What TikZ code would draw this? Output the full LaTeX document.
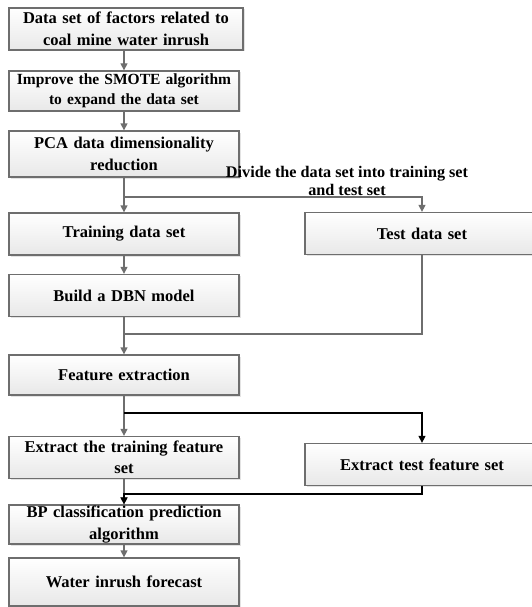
\documentclass[tikz,border=0pt]{standalone}
\usepackage{fontspec}
\setmainfont{Liberation Serif}
\usetikzlibrary{arrows.meta,shadows}
\definecolor{boxgray}{RGB}{110,110,110}
\begin{document}
\begin{tikzpicture}[x=1pt, y=-1pt, line width=1.3pt,
main node/.style={rectangle, draw=boxgray, top color=white, bottom color=black!9, minimum width=230pt, minimum height=42pt, text width=226pt, align=center, inner sep=1pt, font=\bfseries\fontsize{16.5}{21.5}\selectfont, drop shadow={shadow xshift=1.5pt, shadow yshift=-1.5pt, fill=black!22}},
flow/.style={draw=boxgray, -{Triangle[length=7pt,width=7pt]}},
black flow/.style={draw=black, -{Triangle[length=7pt,width=7pt]}}]
\useasboundingbox (0,0) rectangle (532,607);
\begin{scope}
\node[main node, minimum width=234pt] (data) at (126,29) {Data set of factors related to\\coal mine water inrush};
\node[main node, minimum height=40pt, font=\bfseries\fontsize{15.5}{20}\selectfont] (smote) at (124,91) {Improve the SMOTE algorithm\\to expand the data set};
\node[main node, minimum height=46pt] (pca) at (124,154) {PCA data dimensionality\\reduction};
\node[main node] (train) at (124,234) {Training data set};
\node[main node, minimum width=234pt] (test) at (422,233.5) {Test data set};
\node[main node] (dbn) at (124,295.5) {Build a DBN model};
\node[main node, minimum height=40pt] (feat) at (124,375) {Feature extraction};
\node[main node] (trainfeat) at (124,457.5) {Extract the training feature\\set};
\node[main node, minimum width=234pt] (testfeat) at (422,464.5) {Extract test feature set};
\node[main node, minimum height=39pt] (bp) at (124,524.5) {BP classification prediction\\algorithm};
\node[main node, minimum height=48pt] (water) at (124,582) {Water inrush forecast};
\node[align=center, inner sep=0pt, font=\bfseries\fontsize{16.2}{18}\selectfont] (divide) at (347,181) {Divide the data set into training set\\and test set};
\coordinate (split1) at (124,197);
\coordinate (join1) at (124,334);
\coordinate (split2) at (124,413);
\coordinate (join2) at (124,494);
\end{scope}
\begin{scope}
\draw[flow] (data.south -| smote) -- (smote);
\draw[flow] (smote) -- (pca);
\draw[flow] (pca) -- (train);
\draw[flow] (split1) -| (test);
\draw[flow] (train) -- (dbn);
\draw[draw=boxgray] (test.south) |- (join1);
\draw[flow] (dbn) -- (feat);
\draw[flow] (feat) -- (trainfeat);
\draw[black flow] (split2) -| (testfeat);
\draw[flow] (trainfeat) -- (bp);
\draw[black flow] (testfeat.south) |- (join2) -- (bp.north);
\draw[flow] (bp) -- (water);
\end{scope}
\end{tikzpicture}
\end{document}
